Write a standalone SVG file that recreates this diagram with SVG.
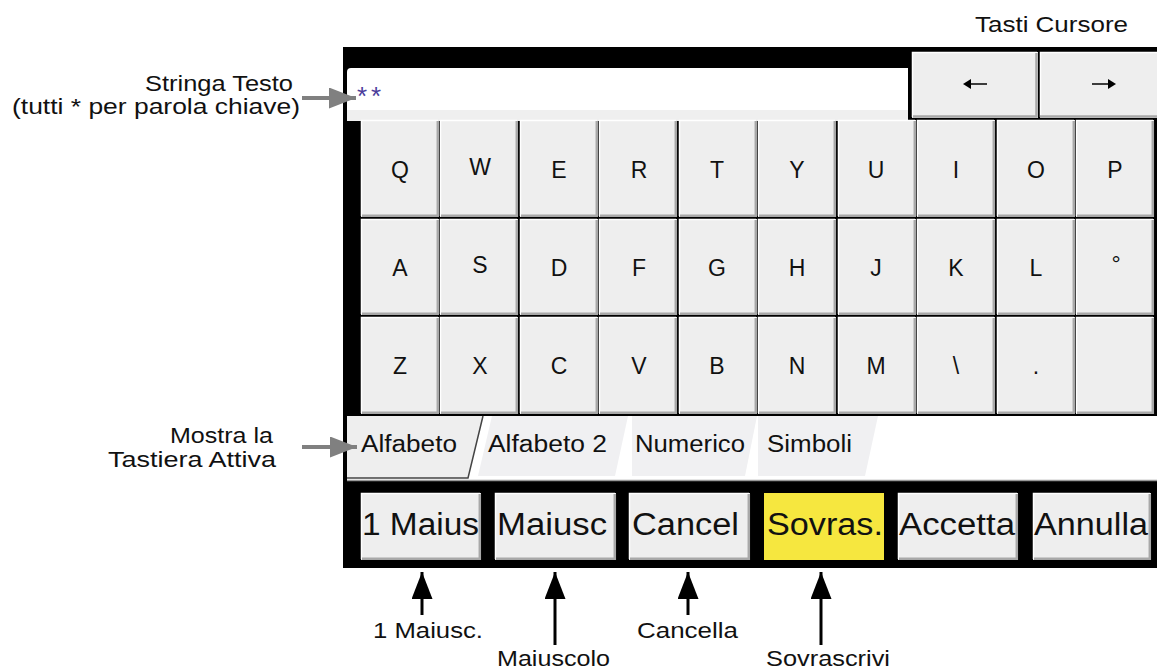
<svg xmlns="http://www.w3.org/2000/svg" width="1157" height="670" viewBox="0 0 1157 670">
<style>
text{font-family:"Liberation Sans",Arial,sans-serif;fill:#111}
.key{fill:#eeeeee}
.hl{fill:none;stroke:#ffffff;stroke-width:1.5}
.sh{fill:none;stroke:#a8a8a8;stroke-width:2.5}
.k{font-size:23px;text-anchor:middle}
.tab{font-size:23px}
.btn{font-size:31px}
.ann{font-size:22.5px}
.garrow{stroke:#808080;stroke-width:4;fill:none}
.barrow{stroke:#000;stroke-width:3;fill:none}
</style>
<defs>
<marker id="gh" viewBox="0 0 10 10" refX="10" refY="5" markerWidth="27" markerHeight="21" markerUnits="userSpaceOnUse" orient="auto" preserveAspectRatio="none"><path d="M0,0 L10,5 L0,10 z" fill="#808080"/></marker>
<marker id="bh" viewBox="0 0 10 10" refX="10" refY="5" markerWidth="27" markerHeight="21" markerUnits="userSpaceOnUse" orient="auto" preserveAspectRatio="none"><path d="M0,0 L10,5 L0,10 z" fill="#000"/></marker>
</defs>
<rect width="1157" height="670" fill="#fff"/>
<g id="frame">
<rect x="343" y="47" width="814" height="521" fill="#000"/>
<path d="M347,121 L347,72 Q347,68 351,68 L908,68 L908,121 Z" fill="#ffffff"/>
<rect x="347" y="110" width="561" height="11" fill="#efefef"/>
<rect x="347" y="416" width="810" height="64" fill="#ffffff"/>
<line x1="347" y1="480.5" x2="1157" y2="480.5" stroke="#999" stroke-width="1.5"/>
</g>
<g id="textfield">
<text x="357" y="105" style="font-size:26px;fill:#4b3c9b;letter-spacing:4px">**</text>
</g>
<g id="cursor-keys">
<rect class="key" x="912" y="52" width="126" height="66"/>
<path class="hl" d="M912.5,117 V52.5 H1037"/>
<path class="sh" d="M1036.5,53 V116.5 H913"/>
<line x1="968" y1="84" x2="987" y2="84" stroke="#000" stroke-width="1.5"/>
<path d="M963,84 L971,79 L971,89 Z" fill="#000"/>
<rect class="key" x="1040" y="52" width="117" height="66"/>
<path class="hl" d="M1040.5,117 V52.5 H1157"/>
<path class="sh" d="M1040,116.5 H1157"/>
<line x1="1092" y1="84" x2="1111" y2="84" stroke="#000" stroke-width="1.5"/>
<path d="M1116,84 L1108,79 L1108,89 Z" fill="#000"/>
</g>
<g id="keys">
<g id="row1">
<rect class="key" x="361" y="120" width="78" height="97"/><rect class="key" x="440" y="120" width="78" height="97"/><rect class="key" x="520" y="120" width="78" height="97"/><rect class="key" x="599" y="120" width="78" height="97"/><rect class="key" x="679" y="120" width="78" height="97"/><rect class="key" x="758" y="120" width="78" height="97"/><rect class="key" x="838" y="120" width="78" height="97"/><rect class="key" x="917" y="120" width="78" height="97"/><rect class="key" x="997" y="120" width="78" height="97"/><rect class="key" x="1076" y="120" width="78" height="97"/>
</g>
<g id="row2">
<rect class="key" x="361" y="219" width="78" height="96"/><rect class="key" x="440" y="219" width="78" height="96"/><rect class="key" x="520" y="219" width="78" height="96"/><rect class="key" x="599" y="219" width="78" height="96"/><rect class="key" x="679" y="219" width="78" height="96"/><rect class="key" x="758" y="219" width="78" height="96"/><rect class="key" x="838" y="219" width="78" height="96"/><rect class="key" x="917" y="219" width="78" height="96"/><rect class="key" x="997" y="219" width="78" height="96"/><rect class="key" x="1076" y="219" width="78" height="96"/>
</g>
<g id="row3">
<rect class="key" x="361" y="317" width="78" height="97"/><rect class="key" x="440" y="317" width="78" height="97"/><rect class="key" x="520" y="317" width="78" height="97"/><rect class="key" x="599" y="317" width="78" height="97"/><rect class="key" x="679" y="317" width="78" height="97"/><rect class="key" x="758" y="317" width="78" height="97"/><rect class="key" x="838" y="317" width="78" height="97"/><rect class="key" x="917" y="317" width="78" height="97"/><rect class="key" x="997" y="317" width="78" height="97"/><rect class="key" x="1076" y="317" width="78" height="97"/>
</g>
<g id="bevels">
<path class="hl" d="M361.5,216 V120.5 H438 M440.5,216 V120.5 H517 M520.5,216 V120.5 H597 M599.5,216 V120.5 H676 M679.5,216 V120.5 H756 M758.5,216 V120.5 H835 M838.5,216 V120.5 H915 M917.5,216 V120.5 H994 M997.5,216 V120.5 H1074 M1076.5,216 V120.5 H1153"/>
<path class="hl" d="M361.5,314 V219.5 H438 M440.5,314 V219.5 H517 M520.5,314 V219.5 H597 M599.5,314 V219.5 H676 M679.5,314 V219.5 H756 M758.5,314 V219.5 H835 M838.5,314 V219.5 H915 M917.5,314 V219.5 H994 M997.5,314 V219.5 H1074 M1076.5,314 V219.5 H1153"/>
<path class="hl" d="M361.5,413 V317.5 H438 M440.5,413 V317.5 H517 M520.5,413 V317.5 H597 M599.5,413 V317.5 H676 M679.5,413 V317.5 H756 M758.5,413 V317.5 H835 M838.5,413 V317.5 H915 M917.5,413 V317.5 H994 M997.5,413 V317.5 H1074 M1076.5,413 V317.5 H1153"/>
<path class="sh" d="M437.8,121 V215.8 H362 M516.8,121 V215.8 H441 M596.8,121 V215.8 H521 M675.8,121 V215.8 H600 M755.8,121 V215.8 H680 M834.8,121 V215.8 H759 M914.8,121 V215.8 H839 M993.8,121 V215.8 H918 M1073.8,121 V215.8 H998 M1152.8,121 V215.8 H1077"/>
<path class="sh" d="M437.8,220 V313.8 H362 M516.8,220 V313.8 H441 M596.8,220 V313.8 H521 M675.8,220 V313.8 H600 M755.8,220 V313.8 H680 M834.8,220 V313.8 H759 M914.8,220 V313.8 H839 M993.8,220 V313.8 H918 M1073.8,220 V313.8 H998 M1152.8,220 V313.8 H1077"/>
<path class="sh" d="M437.8,318 V412.8 H362 M516.8,318 V412.8 H441 M596.8,318 V412.8 H521 M675.8,318 V412.8 H600 M755.8,318 V412.8 H680 M834.8,318 V412.8 H759 M914.8,318 V412.8 H839 M993.8,318 V412.8 H918 M1073.8,318 V412.8 H998 M1152.8,318 V412.8 H1077"/>
</g>
<g id="labels">
<text class="k" x="400" y="178">Q</text><text class="k" x="480" y="175">W</text><text class="k" x="559" y="178">E</text><text class="k" x="639" y="178">R</text><text class="k" x="717" y="178">T</text><text class="k" x="797" y="178">Y</text><text class="k" x="876" y="178">U</text><text class="k" x="956" y="178">I</text><text class="k" x="1036" y="178">O</text><text class="k" x="1115" y="178">P</text>
<text class="k" x="400" y="276">A</text><text class="k" x="480" y="273">S</text><text class="k" x="559" y="276">D</text><text class="k" x="639" y="276">F</text><text class="k" x="717" y="276">G</text><text class="k" x="797" y="276">H</text><text class="k" x="876" y="276">J</text><text class="k" x="956" y="276">K</text><text class="k" x="1036" y="276">L</text><text class="k" x="1116" y="272">°</text>
<text class="k" x="400" y="374">Z</text><text class="k" x="480" y="374">X</text><text class="k" x="559" y="374">C</text><text class="k" x="639" y="374">V</text><text class="k" x="717" y="374">B</text><text class="k" x="797" y="374">N</text><text class="k" x="876" y="374">M</text><text class="k" x="956" y="374">\</text><text class="k" x="1036" y="374">.</text>
</g>
</g>
<g id="tabs">
<g id="tab-alfabeto">
<path d="M347,416 L483,416 L468,478 L347,478 Z" fill="#eeeeee"/>
<path d="M483,416 L468,478 L347,478" fill="none" stroke="#444" stroke-width="1.5"/>
<text class="tab" x="361" y="452" textLength="96" lengthAdjust="spacingAndGlyphs">Alfabeto</text>
</g>
<g id="tab-alfabeto2">
<path d="M492,416 L628,416 L615,476 L478,476 Z" fill="#f0f0f2"/>
<text class="tab" x="488" y="452" textLength="119" lengthAdjust="spacingAndGlyphs">Alfabeto 2</text>
</g>
<g id="tab-numerico">
<path d="M632,416 L757,416 L745,476 L632,476 Z" fill="#f0f0f2"/>
<text class="tab" x="635" y="452" textLength="110" lengthAdjust="spacingAndGlyphs">Numerico</text>
</g>
<g id="tab-simboli">
<path d="M758,416 L878,416 L865,476 L758,476 Z" fill="#f0f0f2"/>
<text class="tab" x="767" y="452" textLength="85" lengthAdjust="spacingAndGlyphs">Simboli</text>
</g>
</g>
<g id="buttons">
<g id="btn-1maius">
<rect class="key" x="361" y="493" width="120" height="67"/>
<path class="hl" d="M361.5,559 V493.5 H480"/><path class="sh" d="M479.8,494 V558.8 H362"/>
<text class="btn" x="362" y="535" textLength="117" lengthAdjust="spacingAndGlyphs">1 Maius</text>
</g>
<g id="btn-maiusc">
<rect class="key" x="495" y="493" width="121" height="67"/>
<path class="hl" d="M495.5,559 V493.5 H615"/><path class="sh" d="M614.8,494 V558.8 H496"/>
<text class="btn" x="497" y="535" textLength="110" lengthAdjust="spacingAndGlyphs">Maiusc</text>
</g>
<g id="btn-cancel">
<rect class="key" x="629" y="493" width="121" height="67"/>
<path class="hl" d="M629.5,559 V493.5 H749"/><path class="sh" d="M748.8,494 V558.8 H630"/>
<text class="btn" x="632" y="535" textLength="107" lengthAdjust="spacingAndGlyphs">Cancel</text>
</g>
<g id="btn-sovras">
<rect x="764" y="493" width="120" height="67" fill="#f6e73f"/>
<text class="btn" x="767" y="535" textLength="116" lengthAdjust="spacingAndGlyphs">Sovras.</text>
</g>
<g id="btn-accetta">
<rect class="key" x="898" y="493" width="120" height="67"/>
<path class="hl" d="M898.5,559 V493.5 H1017"/><path class="sh" d="M1016.8,494 V558.8 H899"/>
<text class="btn" x="899" y="535" textLength="116" lengthAdjust="spacingAndGlyphs">Accetta</text>
</g>
<g id="btn-annulla">
<rect class="key" x="1033" y="493" width="118" height="67"/>
<path class="hl" d="M1033.5,559 V493.5 H1150"/><path class="sh" d="M1149.8,494 V558.8 H1034"/>
<text class="btn" x="1034" y="535" textLength="114" lengthAdjust="spacingAndGlyphs">Annulla</text>
</g>
</g>
<g id="annotations">
<text class="ann" x="975" y="32" textLength="153" lengthAdjust="spacingAndGlyphs">Tasti Cursore</text>
<text class="ann" x="293" y="91" text-anchor="end" textLength="148" lengthAdjust="spacingAndGlyphs">Stringa Testo</text>
<text class="ann" x="300" y="114" text-anchor="end" textLength="288" lengthAdjust="spacingAndGlyphs">(tutti * per parola chiave)</text>
<text class="ann" x="273" y="443" text-anchor="end" textLength="103" lengthAdjust="spacingAndGlyphs">Mostra la</text>
<text class="ann" x="276" y="467" text-anchor="end" textLength="168" lengthAdjust="spacingAndGlyphs">Tastiera Attiva</text>
<text class="ann" x="373" y="638" textLength="110" lengthAdjust="spacingAndGlyphs">1 Maiusc.</text>
<text class="ann" x="497" y="666" textLength="113" lengthAdjust="spacingAndGlyphs">Maiuscolo</text>
<text class="ann" x="637" y="638" textLength="101" lengthAdjust="spacingAndGlyphs">Cancella</text>
<text class="ann" x="766" y="666" textLength="124" lengthAdjust="spacingAndGlyphs">Sovrascrivi</text>
</g>
<g id="connectors">
<line class="garrow" x1="302" y1="98" x2="356" y2="98" marker-end="url(#gh)"/>
<line class="garrow" x1="302" y1="447" x2="357" y2="447" marker-end="url(#gh)"/>
<line class="barrow" x1="422" y1="615" x2="422" y2="572" marker-end="url(#bh)"/>
<line class="barrow" x1="555" y1="645" x2="555" y2="572" marker-end="url(#bh)"/>
<line class="barrow" x1="688" y1="615" x2="688" y2="572" marker-end="url(#bh)"/>
<line class="barrow" x1="821" y1="645" x2="821" y2="572" marker-end="url(#bh)"/>
</g>
</svg>
